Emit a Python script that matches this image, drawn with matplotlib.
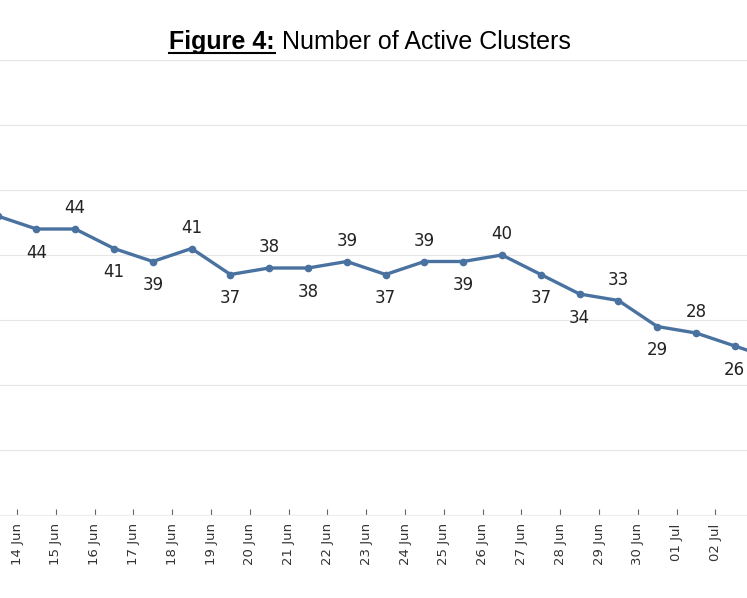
import matplotlib
matplotlib.use("Agg")
import matplotlib.pyplot as plt
from matplotlib.lines import Line2D

plt.rcParams['font.family'] = ['Liberation Sans', 'DejaVu Sans']

# ===============================
# DATA
# ===============================
dates = ["14 Jun", "15 Jun", "16 Jun", "17 Jun", "18 Jun", "19 Jun", "20 Jun",
         "21 Jun", "22 Jun", "23 Jun", "24 Jun", "25 Jun", "26 Jun", "27 Jun",
         "28 Jun", "29 Jun", "30 Jun", "01 Jul", "02 Jul"]
clusters = [44, 44, 41, 39, 41, 37, 38, 38, 39, 37, 39, 39, 40, 37, 34, 33, 29, 28, 26]
before_value = 46   # point left of the visible area
after_value = 24    # point right of the visible area
label_above = [0, 1, 0, 0, 1, 0, 1, 0, 1, 0, 1, 0, 1, 0, 0, 1, 0, 1, 0]

W, H = 747, 598
fig = plt.figure(figsize=(W / 100, H / 100), dpi=100)
ax = fig.add_axes([0, 1 - 515 / H, 1, (515 - 60) / H])

n = len(dates)
xs = [i + 0.5 for i in range(-1, n + 1)]
ys = [before_value] + clusters + [after_value]
ax.plot(xs, ys, color="#4a72a0", lw=2.4, marker="o", ms=4.5, zorder=3)

for i, v in enumerate(clusters):
    off = 15 if label_above[i] else -17
    ax.annotate(str(v), (i + 0.5, v), xytext=(0, off), textcoords="offset points",
                ha="center", va="center", fontsize=12, color="#222222",
                family=["DejaVu Sans"])

ax.set_xlim(-17 / 38.8, (747 - 17) / 38.8)
ax.set_ylim(0, 70)
ax.set_yticks(range(0, 71, 10))
ax.yaxis.grid(True, color="#e6e6e6", lw=0.8)
ax.set_axisbelow(True)
ax.tick_params(axis="y", left=False, labelleft=False)
ax.set_xticks(range(n))
ax.set_xticklabels(dates, rotation=90, fontsize=9.5, color="#333333",
                   family=["DejaVu Sans"])
ax.tick_params(axis="x", length=4, color="#666666", direction="in", pad=6)
for s in ax.spines.values():
    s.set_visible(False)
ax.spines["bottom"].set_visible(True)
ax.spines["bottom"].set_color("#eeeeee")

# ===============================
# TITLE
# ===============================
t1 = fig.text(0, 1 - 42 / H, "Figure 4:", fontsize=18, fontweight="bold",
              ha="left", va="center")
t2 = fig.text(0, 1 - 42 / H, " Number of Active Clusters", fontsize=18,
              ha="left", va="center")
fig.canvas.draw()
r = fig.canvas.get_renderer()
w1 = t1.get_window_extent(r).width
w2 = t2.get_window_extent(r).width
x0 = 370 - (w1 + w2) / 2
t1.set_x(x0 / W)
t2.set_x((x0 + w1) / W)
bb = t1.get_window_extent(r)
uy = (bb.y0 + 1) / H
fig.add_artist(Line2D([x0 / W, (x0 + w1) / W], [uy, uy], color="black", lw=1.5))

fig.savefig("out.png", dpi=100)
